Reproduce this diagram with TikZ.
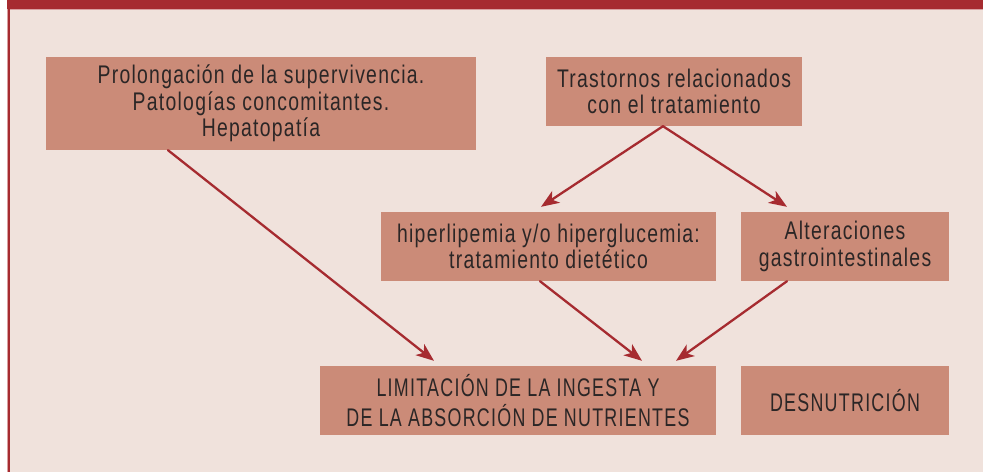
\documentclass[tikz,border=0pt]{standalone}
\usepackage{fontspec}
\setmainfont{Liberation Sans}[FakeStretch=0.76,LetterSpace=5]
\newfontfamily\capsfont{Liberation Sans}[FakeStretch=0.70,LetterSpace=5]
\usepackage{tikz}
\usetikzlibrary{arrows.meta}

\definecolor{bandred}{HTML}{A62B30}
\definecolor{bgpink}{HTML}{F0E2DC}
\definecolor{framepink}{HTML}{D9A0A0}
\definecolor{boxsalmon}{HTML}{CB8B78}
\definecolor{inkgray}{HTML}{2B2626}

\tikzset{
  causebox/.style={fill=boxsalmon,inner sep=0pt,align=center,text=inkgray,
    minimum height=69pt,font=\fontsize{25.5}{26.7}\selectfont},
  causearrow/.style={-{Stealth[length=18pt,width=14pt,inset=5pt]},color=bandred,line width=2.3pt}
}

\begin{document}
\begin{tikzpicture}
    [line cap=round,line join=round,x=1pt,y=-1pt]
%background and frame
 \useasboundingbox (0,0) rectangle (983,472);
 \fill[white] (0,0) rectangle (983,472);
 \fill[bgpink] (7,0) rectangle (983,472);
 \fill[framepink] (7,9) rectangle (983,10);
 \fill[bandred] (7,0) rectangle (983,9);
 \fill[framepink] (7,9) rectangle (8,472);
 \fill[bandred] (8,9) rectangle (10,472);

%boxes
 \node[causebox,minimum width=430pt,minimum height=93pt] (prolong) at (261,103.5)
   {Prolongación de la supervivencia.\\Patologías concomitantes.\\Hepatopatía};
 \node[causebox,minimum width=256pt] (trast) at (674,91.5)
   {Trastornos relacionados\\con el tratamiento};
 \node[causebox,minimum width=335pt] (hiper) at (548.5,246.5)
   {hiperlipemia y/o hiperglucemia:\\tratamiento dietético};
 \node[causebox,minimum width=208pt] (alter) at (845,246.5)
   {Alteraciones\\gastrointestinales};
 \node[causebox,minimum width=396pt,
   font=\capsfont\fontsize{25.5}{29.4}\selectfont] (limit) at (518,400.5)
   {LIMITACIÓN DE LA INGESTA Y\\DE LA ABSORCIÓN DE NUTRIENTES};
 \node[causebox,minimum width=208pt,font=\capsfont\fontsize{25.5}{26.7}\selectfont]
   (desnut) at (845,400.5) {DESNUTRICIÓN};

%arrows
 \draw[causearrow] ([xshift=-11pt]trast.south) -- ([xshift=-7.5pt,yshift=5pt]hiper.north);
 \draw[causearrow] ([xshift=-11pt]trast.south) -- ([xshift=-58pt,yshift=5pt]alter.north);
 \draw[causearrow] ([xshift=-93pt]prolong.south) -- ([xshift=-84pt,yshift=5pt]limit.north);
 \draw[causearrow] ([xshift=-8.5pt]hiper.south) -- ([xshift=124pt,yshift=5pt]limit.north);
 \draw[causearrow] ([xshift=-58pt]alter.south) -- ([xshift=158pt,yshift=5pt]limit.north);
\end{tikzpicture}
\end{document}
